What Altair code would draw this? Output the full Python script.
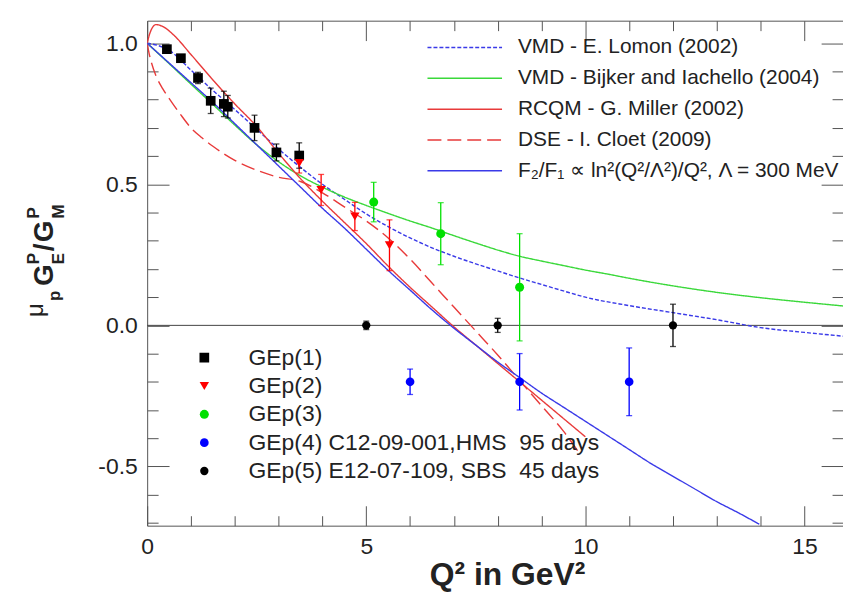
import altair as alt
import pandas as pd

FONT = "Liberation Sans"

# ---------------- theory curves ----------------
lomon_q2 = [0, 0.25, 0.5, 1, 1.5, 2, 2.5, 3, 3.5, 4, 4.5, 5, 5.5, 6, 6.5, 7, 7.5, 8, 8.5, 9, 9.5, 10, 11, 12, 13, 14, 15, 16]
lomon_r = [1.0, 0.992, 0.975, 0.905, 0.833, 0.765, 0.695, 0.625, 0.56, 0.5, 0.447, 0.395, 0.35, 0.31, 0.275, 0.245, 0.218, 0.193, 0.168, 0.145, 0.122, 0.1, 0.07, 0.045, 0.02, -0.008, -0.025, -0.04]

bijker_q2 = [0, 0.5, 1, 1.5, 2, 2.5, 3, 3.5, 4, 4.5, 5, 5.5, 6, 6.5, 7, 7.5, 8, 8.5, 9, 9.5, 10, 10.5, 11, 11.5, 12, 13, 14, 15, 16]
bijker_r = [1.0, 0.928, 0.855, 0.783, 0.71, 0.64, 0.58, 0.53, 0.49, 0.455, 0.425, 0.397, 0.37, 0.345, 0.318, 0.292, 0.267, 0.245, 0.228, 0.212, 0.196, 0.182, 0.167, 0.153, 0.14, 0.117, 0.098, 0.082, 0.067]

miller_q2 = [0, 0.05, 0.1, 0.2, 0.35, 0.6, 1, 1.5, 2, 2.5, 3, 3.5, 4, 4.5, 5, 5.5, 6, 6.5, 7, 7.5, 8, 8.5, 9, 9.5, 10]
miller_r = [1.0, 1.03, 1.05, 1.066, 1.06, 1.03, 0.96, 0.87, 0.785, 0.705, 0.61, 0.52, 0.44, 0.365, 0.29, 0.21, 0.135, 0.065, -0.005, -0.07, -0.135, -0.2, -0.265, -0.33, -0.395]

cloet_q2 = [0, 0.05, 0.1, 0.2, 0.35, 0.5, 0.75, 1, 1.25, 1.5, 2, 2.5, 3, 3.5, 4, 4.5, 5, 5.5, 6, 6.5, 7, 7.5, 8, 8.5, 9, 9.5, 9.87]
cloet_r = [1.0, 0.96, 0.93, 0.885, 0.84, 0.805, 0.75, 0.70, 0.665, 0.635, 0.585, 0.55, 0.525, 0.51, 0.47, 0.42, 0.37, 0.31, 0.235, 0.15, 0.065, -0.02, -0.105, -0.195, -0.285, -0.375, -0.455]

f2f1_q2 = [0, 0.5, 1, 1.5, 2, 2.5, 3, 3.5, 4, 4.5, 5, 5.5, 6, 6.5, 7, 7.5, 8, 8.5, 9, 9.5, 10, 10.5, 11, 11.5, 12, 12.5, 13, 13.5, 13.97]
f2f1_r = [1.0, 0.93, 0.86, 0.79, 0.715, 0.64, 0.565, 0.49, 0.415, 0.345, 0.27, 0.195, 0.125, 0.055, -0.01, -0.07, -0.13, -0.185, -0.24, -0.29, -0.34, -0.39, -0.44, -0.49, -0.535, -0.58, -0.625, -0.665, -0.705]

model_names = [
    "VMD - E. Lomon (2002)",
    "VMD - Bijker and Iachello (2004)",
    "RCQM - G. Miller (2002)",
    "DSE - I. Cloet (2009)",
    "F\u2082/F\u2081 \u221d ln\u00b2(Q\u00b2/\u039b\u00b2)/Q\u00b2, \u039b = 300 MeV",
]
model_colors = ["#3a3ae8", "#3ad83a", "#e83a3a", "#e83a3a", "#3a3ae8"]
model_dashes = [[4, 2], [1, 0], [1, 0], [14, 6], [1, 0]]
curves = [(lomon_q2, lomon_r), (bijker_q2, bijker_r), (miller_q2, miller_r), (cloet_q2, cloet_r), (f2f1_q2, f2f1_r)]

# ---------------- data points ----------------
gep1_q2 = [0.45, 0.77, 1.16, 1.45, 1.75, 1.84, 2.45, 2.95, 3.47]
gep1_r = [0.979, 0.947, 0.877, 0.796, 0.785, 0.775, 0.70, 0.613, 0.602]
gep1_err = [0.01, 0.01, 0.02, 0.045, 0.045, 0.04, 0.045, 0.03, 0.045]

gep2_q2 = [3.47, 3.97, 4.74, 5.53]
gep2_r = [0.575, 0.48, 0.386, 0.284]
gep2_err = [0.035, 0.055, 0.05, 0.09]

gep3_q2 = [5.17, 6.7, 8.5]
gep3_r = [0.437, 0.325, 0.135]
gep3_err = [0.07, 0.11, 0.19]

gep4_q2 = [6.0, 8.5, 11.0]
gep4_r = [-0.2, -0.2, -0.2]
gep4_err = [0.045, 0.1, 0.12]

gep5_q2 = [5.0, 8.0, 12.0]
gep5_r = [0.0, 0.0, 0.0]
gep5_err = [0.015, 0.025, 0.075]

set_names = [
    "GEp(1)",
    "GEp(2)",
    "GEp(3)",
    "GEp(4) C12-09-001,HMS \u00a095 days",
    "GEp(5) E12-07-109, SBS \u00a045 days",
]
set_colors = ["#000000", "#ff0000", "#00e000", "#0000ff", "#000000"]
set_shapes = ["square", "triangle-down", "circle", "circle", "circle"]
set_sizes = [95, 70, 90, 75, 60]
sets = [(gep1_q2, gep1_r, gep1_err), (gep2_q2, gep2_r, gep2_err), (gep3_q2, gep3_r, gep3_err),
        (gep4_q2, gep4_r, gep4_err), (gep5_q2, gep5_r, gep5_err)]

# ---------------- tables ----------------
curve_rows = []
for name, (qs, rs) in zip(model_names, curves):
    for i, (q, r) in enumerate(zip(qs, rs)):
        curve_rows.append({"model": name, "q2": q, "r": r, "i": i})
curve_df = pd.DataFrame(curve_rows)

pt_rows, cap_rows = [], []
for name, (qs, rs, es) in zip(set_names, sets):
    for q, r, e in zip(qs, rs, es):
        pt_rows.append({"set": name, "q2": q, "r": r, "lo": r - e, "hi": r + e})
        cap_rows.append({"set": name, "q2": q, "r": r - e})
        cap_rows.append({"set": name, "q2": q, "r": r + e})
pt_df = pd.DataFrame(pt_rows)
cap_df = pd.DataFrame(cap_rows)
zero_df = pd.DataFrame({"r": [0.0]})
one = pd.DataFrame({"v": [0.0]})

xscale = alt.Scale(domain=[0, 15.88], nice=False, zero=False)
yscale = alt.Scale(domain=[-0.71, 1.08], nice=False, zero=False)
TXT = "#222222"
TICK = "#555555"
FRAME = "#555555"

set_color_scale = alt.Scale(domain=set_names, range=set_colors)

# ---------------- layers ----------------
zero_line = alt.Chart(zero_df).mark_rule(color="#444444", strokeWidth=1).encode(
    y=alt.Y("r:Q", scale=yscale, axis=None))

line_legend = dict(orient="none", legendX=281, legendY=15, title=None,
                   symbolType="stroke", symbolSize=5625, symbolStrokeWidth=1.5,
                   labelFont=FONT, labelFontSize=21, labelColor=TXT,
                   labelOffset=15, clipHeight=24, rowPadding=7,
                   padding=0, labelLimit=600)

lines = alt.Chart(curve_df).mark_line(clip=True, strokeWidth=1.4, interpolate="monotone").encode(
    x=alt.X("q2:Q", scale=xscale, axis=alt.Axis(
        values=[0, 5, 10, 15], ticks=False, domain=True, domainColor=FRAME, grid=False, format="d",
        labelFlush=False, labelFont=FONT, labelFontSize=23, labelColor=TXT, labelPadding=10,
        title="Q\u00b2 in GeV\u00b2", titleFont=FONT, titleFontSize=32, titleFontWeight="bold",
        titleColor=TXT, titleBaseline="alphabetic", titleY=59, titleX=362)),
    y=alt.Y("r:Q", scale=yscale, axis=alt.Axis(
        values=[-0.5, 0, 0.5, 1.0], ticks=False, domain=True, domainColor=FRAME, grid=False,
        labelFlush=False,
        labelExpr="datum.value < 0 ? '-' + format(-datum.value, '.1f') : format(datum.value, '.1f')",
        labelFont=FONT, labelFontSize=23, labelColor=TXT, labelPadding=10, title=None)),
    color=alt.Color("model:N", scale=alt.Scale(domain=model_names, range=model_colors),
                    legend=alt.Legend(**line_legend)),
    strokeDash=alt.StrokeDash("model:N", scale=alt.Scale(domain=model_names, range=model_dashes),
                              legend=alt.Legend(**line_legend)),
    detail="model:N",
    order="i:Q",
)

errbars = alt.Chart(pt_df).mark_rule(strokeWidth=1.3).encode(
    x=alt.X("q2:Q", scale=xscale, axis=None),
    y=alt.Y("lo:Q", scale=yscale, axis=None),
    y2="hi:Q",
    color=alt.Color("set:N", scale=set_color_scale, legend=None),
)

caps = alt.Chart(cap_df).mark_tick(orient="horizontal", size=6, thickness=1.3).encode(
    x=alt.X("q2:Q", scale=xscale, axis=None),
    y=alt.Y("r:Q", scale=yscale, axis=None),
    color=alt.Color("set:N", scale=set_color_scale, legend=None),
)

point_legend = dict(orient="none", legendX=46, legendY=326, title=None,
                    symbolSize=64, labelFont=FONT, labelFontSize=23,
                    labelColor=TXT, labelOffset=33, clipHeight=26,
                    rowPadding=2.5, padding=0, labelLimit=700)

points = alt.Chart(pt_df).mark_point(filled=True, opacity=1).encode(
    x=alt.X("q2:Q", scale=xscale, axis=None),
    y=alt.Y("r:Q", scale=yscale, axis=None),
    color=alt.Color("set:N", scale=set_color_scale, legend=alt.Legend(**point_legend)),
    shape=alt.Shape("set:N", scale=alt.Scale(domain=set_names, range=set_shapes),
                    legend=alt.Legend(**point_legend)),
    size=alt.Size("set:N", scale=alt.Scale(domain=set_names, range=set_sizes), legend=None),
)


# ---------------- inward tick marks (ROOT style) ----------------
def xticks(orient, values, size):
    return alt.Chart(one).mark_point(opacity=0).encode(
        x=alt.X("v:Q", scale=xscale, axis=alt.Axis(
            orient=orient, values=values, tickSize=size, offset=-size, labels=False,
            domain=False, grid=False, title=None, tickColor=TICK, tickWidth=1)))


def yticks(orient, values, size):
    return alt.Chart(one).mark_point(opacity=0).encode(
        y=alt.Y("v:Q", scale=yscale, axis=alt.Axis(
            orient=orient, values=values, tickSize=size, offset=-size, labels=False,
            domain=False, grid=False, title=None, tickColor=TICK, tickWidth=1)))


top_frame = alt.Chart(one).mark_point(opacity=0).encode(
    x=alt.X("v:Q", scale=xscale, axis=alt.Axis(
        orient="top", ticks=False, labels=False, domain=True, domainColor=FRAME,
        grid=False, title=None)))

x_major = [0, 5, 10, 15]
x_minor = [k for k in range(0, 16) if k % 5 != 0]
y_major = [-0.5, 0.0, 0.5, 1.0]
y_minor = [round(-0.7 + 0.1 * k, 1) for k in range(18) if round(-0.7 + 0.1 * k, 1) not in (-0.5, 0.0, 0.5, 1.0)]

tick_layers = [
    top_frame,
    xticks("bottom", x_major, 20), xticks("bottom", x_minor, 10),
    xticks("top", x_major, 20), xticks("top", x_minor, 10),
    yticks("left", y_major, 22), yticks("left", y_minor, 11),
    yticks("right", y_major, 22), yticks("right", y_minor, 11),
]


# ---------------- y-axis title: mu_p G_E^p / G_M^p (rotated) ----------------
def ytxt(text, xpage, ypage, size, weight="bold"):
    return alt.Chart(one).mark_text(
        angle=270, align="left", baseline="alphabetic", font=FONT,
        fontSize=size, fontWeight=weight, color=TXT).encode(
        x=alt.value(xpage - 148), y=alt.value(ypage - 19), text=alt.value(text))


title_layers = [
    ytxt("\u03bc", 43, 317, 24, "normal"),
    ytxt("p", 60, 301, 17),
    ytxt("G", 53, 286, 28),
    ytxt("E", 64, 264, 17),
    ytxt("P", 39, 264, 17),
    ytxt("/", 53, 251, 28),
    ytxt("G", 53, 242, 28),
    ytxt("M", 64, 218, 17),
    ytxt("P", 39, 218, 17),
]

chart = alt.layer(
    zero_line, lines, errbars, caps, points, *tick_layers, *title_layers
).resolve_scale(
    color="independent", shape="independent", strokeDash="independent", size="independent"
).resolve_axis(
    x="independent", y="independent"
).properties(
    width=700, height=508,
    autosize=alt.AutoSizeParams(type="none"),
    padding={"left": 140, "top": 11, "right": 0, "bottom": 70},
).configure_view(strokeWidth=0)

chart.save("out.html", embed_options={"renderer": "svg", "actions": False})
